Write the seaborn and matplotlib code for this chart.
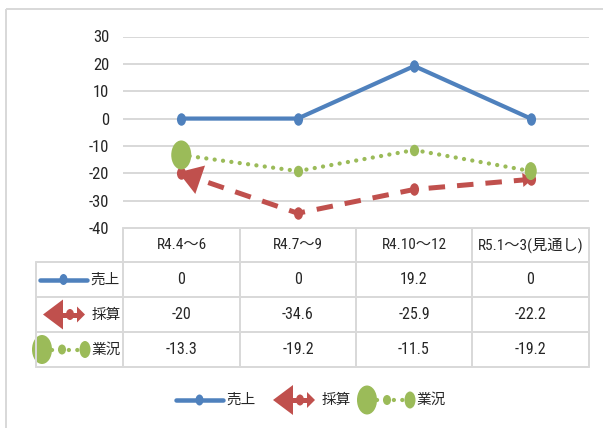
import numpy as np
import pandas as pd
import matplotlib
matplotlib.use('Agg')
import matplotlib.pyplot as plt
import seaborn as sns
from matplotlib.path import Path
from matplotlib.patches import Ellipse, Polygon, Rectangle

# ---- data ----
categories = ['R4.4～6', 'R4.7～9', 'R4.10～12', 'R5.1～3(見通し)']
series_names = ['売上', '採算', '業況']
uriage = [0, 0, 19.2, 0]
saisan = [-20, -34.6, -25.9, -22.2]
gyokyo = [-13.3, -19.2, -11.5, -19.2]
yticks = [30, 20, 10, 0, -10, -20, -30, -40]

BLUE = '#4F81BD'
RED = '#C0504D'
GREEN = '#9BBB59'
GRID = '#D9D9D9'
TXT = '#262626'

sns.set_theme(style='white')
plt.rcParams['font.family'] = ['Roboto Condensed', 'Noto Sans CJK JP', 'DejaVu Sans']

W, H = 603, 428
PT = 72 / 100.0  # points per pixel at dpi 100
fig = plt.figure(figsize=(W / 100, H / 100), dpi=100)
fig.patch.set_facecolor('white')


def fx(x):
    return x / W


def fy(y):
    return 1 - y / H


def ellipse_marker(aspect):
    c = Path.unit_circle()
    return Path(c.vertices * np.array([aspect, 1.0]), c.codes)


ax = fig.add_axes([fx(123), fy(228), (589 - 123) / W, (228 - 36.5) / H])
df = pd.DataFrame({'period': categories, '売上': uriage, '採算': saisan, '業況': gyokyo})

sns.lineplot(data=df, x='period', y='売上', ax=ax, sort=False, color=BLUE, lw=4.2 * PT,
             marker=ellipse_marker(0.73), ms=12.5 * PT, mec=BLUE, mew=0, zorder=3)
sns.lineplot(data=df, x='period', y='採算', ax=ax, sort=False, color=RED, lw=5 * PT,
             linestyle=(0, (3.3, 2.4)), marker=ellipse_marker(0.73), ms=12.5 * PT,
             mec=RED, mew=0, zorder=3.1)
sns.lineplot(data=df, x='period', y='業況', ax=ax, sort=False, color=GREEN, lw=4.3 * PT,
             linestyle=(0, (0.01, 1.95)), dash_capstyle='round',
             marker=ellipse_marker(0.8), ms=11.5 * PT, mec=GREEN, mew=0, zorder=3.3)

ax.set_xlim(-0.5, len(categories) - 0.5)
ax.set_ylim(-40, 30)
ax.set_yticks(yticks)
ax.set_yticklabels([str(v) for v in yticks])
ax.set_xticks([])
ax.set_xlabel('')
ax.set_ylabel('')
for s in ax.spines.values():
    s.set_visible(False)
ax.yaxis.grid(True, color=GRID, lw=2 * PT)
ax.xaxis.grid(False)
ax.tick_params(axis='y', length=0, pad=10, labelsize=12, labelcolor=TXT)
ax.set_axisbelow(True)
ax.patch.set_alpha(0)

# overlay in pixel coordinates (y downward)
ov = fig.add_axes([0, 0, 1, 1], zorder=5)
ov.set_xlim(0, W)
ov.set_ylim(H, 0)
ov.axis('off')


def to_px(x, y):
    d = ax.transData.transform((x, y))
    return np.array([d[0], H - d[1]])


def arrow_head(tip, direction, length, width):
    u = direction / np.linalg.norm(direction)
    n = np.array([-u[1], u[0]])
    b = tip - length * u
    return [tip, b + n * width / 2, b - n * width / 2]


# arrowheads on 採算 line (start and end caps)
p0 = to_px(0, saisan[0])
p1 = to_px(1, saisan[1])
pa = to_px(len(saisan) - 2, saisan[-2])
pb = to_px(len(saisan) - 1, saisan[-1])
ax.add_patch(Polygon(arrow_head(p0 + (p0 - p1) / np.linalg.norm(p0 - p1) * 3, p0 - p1, 23, 30),
                     closed=True, color=RED, lw=0, transform=ov.transData, zorder=3.2, clip_on=False))
ax.add_patch(Polygon(arrow_head(pb + (pb - pa) / np.linalg.norm(pb - pa) * 2, pb - pa, 10, 14),
                     closed=True, color=RED, lw=0, transform=ov.transData, zorder=3.2, clip_on=False))

# oval caps on 業況 line
g0 = to_px(0, gyokyo[0])
g3 = to_px(len(gyokyo) - 1, gyokyo[-1])
ax.add_patch(Ellipse(g0, 20, 29, color=GREEN, lw=0, transform=ov.transData, zorder=3.4, clip_on=False))
ax.add_patch(Ellipse(g3, 12, 18, color=GREEN, lw=0, transform=ov.transData, zorder=3.4, clip_on=False))

# outer chart border
ov.add_patch(Rectangle((6, 9), W + 20, H + 20, fill=False, ec=GRID, lw=2 * PT, clip_on=False))

# ---- data table ----
col_x = [123, 240, 356, 472, 589]
row_y = [228, 262, 297, 332, 367]
lab_x0 = 36
glw = 2 * PT
ov.plot([col_x[0], col_x[-1]], [row_y[0], row_y[0]], color=GRID, lw=glw)
for yy in row_y[1:]:
    ov.plot([lab_x0, col_x[-1]], [yy, yy], color=GRID, lw=glw)
for xx in col_x:
    ov.plot([xx, xx], [row_y[0], row_y[-1]], color=GRID, lw=glw)
ov.plot([lab_x0, lab_x0], [row_y[1], row_y[-1]], color=GRID, lw=glw)

for i, c in enumerate(categories):
    ov.text((col_x[i] + col_x[i + 1]) / 2, (row_y[0] + row_y[1]) / 2, c,
            ha='center', va='center', fontsize=11, color=TXT)

all_vals = [uriage, saisan, gyokyo]
for r, vals in enumerate(all_vals):
    yc = (row_y[r + 1] + row_y[r + 2]) / 2
    for i, v in enumerate(vals):
        ov.text((col_x[i] + col_x[i + 1]) / 2, yc, '%g' % v, ha='center', va='center',
                fontsize=11.5, color=TXT)


def key_blue(x0, y):
    ov.plot([x0, x0 + 47], [y, y], color=BLUE, lw=4.5 * PT, solid_capstyle='round')
    ov.add_patch(Ellipse((x0 + 23.5, y), 8, 11, color=BLUE, lw=0))
    return x0 + 50


def key_red(x0, y):
    ov.add_patch(Polygon([(x0, y), (x0 + 20, y - 15), (x0 + 20, y + 15)], closed=True, color=RED, lw=0))
    ov.plot([x0 + 19, x0 + 35], [y, y], color=RED, lw=5 * PT, solid_capstyle='butt')
    ov.add_patch(Ellipse((x0 + 27, y), 8, 11, color=RED, lw=0))
    ov.add_patch(Polygon([(x0 + 42, y), (x0 + 34, y - 8), (x0 + 34, y + 8)], closed=True, color=RED, lw=0))
    return x0 + 49


def key_green(x0, y, h=29):
    ov.plot([x0 + 20, x0 + 50], [y, y], color=GREEN, lw=4.3 * PT,
            linestyle=(0, (0.01, 1.95)), dash_capstyle='round')
    ov.add_patch(Ellipse((x0 + 10, y), 20, h, color=GREEN, lw=0))
    ov.add_patch(Ellipse((x0 + 30, y), 8, 10, color=GREEN, lw=0))
    ov.add_patch(Ellipse((x0 + 53, y), 11, 17, color=GREEN, lw=0))
    return x0 + 59


keys = [key_blue, key_red, key_green]
key_x = [40, 43, 32]
for r, name in enumerate(series_names):
    yc = (row_y[r + 1] + row_y[r + 2]) / 2
    tx = keys[r](key_x[r], yc)
    ov.text(tx, yc, name, ha='left', va='center', fontsize=10.5, color=TXT)

# ---- legend ----
ly = 400
leg_x = [176, 273, 357]
for r, name in enumerate(series_names):
    tx = keys[r](leg_x[r], ly)
    ov.text(tx, ly, name, ha='left', va='center', fontsize=10.5, color=TXT)

fig.savefig('out.png', dpi=100, facecolor='white')
